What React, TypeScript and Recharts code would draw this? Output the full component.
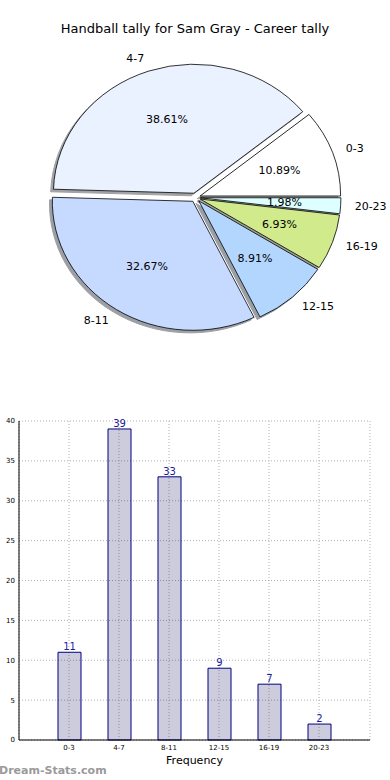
import React from "react";
import {
  Bar,
  BarChart,
  CartesianGrid,
  Cell,
  LabelList,
  Pie,
  PieChart,
  XAxis,
  YAxis,
} from "recharts";

const categories = ["0-3", "4-7", "8-11", "12-15", "16-19", "20-23"];
const tallies = [11, 39, 33, 9, 7, 2];
const sliceColors = ["#FFFFFF", "#EAF1FF", "#C6D9FF", "#B3D6FF", "#D0EA8C", "#DDFFFF"];
const yTicks = [0, 5, 10, 15, 20, 25, 30, 35, 40];

const data = categories.map((name, i) => ({ name, value: tallies[i] }));

// matplotlib pie was squashed, so slices are drawn on an ellipse
const RX = 140.5;
const RY = 129;
const EXPLODE = 0.035;
const RAD = Math.PI / 180;
const FONT = "'DejaVu Sans', sans-serif";

function shade(hex: string) {
  const n = parseInt(hex.slice(1), 16);
  const r = Math.round(((n >> 16) & 255) * 0.3);
  const g = Math.round(((n >> 8) & 255) * 0.3);
  const b = Math.round((n & 255) * 0.3);
  return `rgb(${r},${g},${b})`;
}

function slicePath(cx: number, cy: number, a0: number, a1: number) {
  const start = Math.min(a0, a1);
  const end = Math.max(a0, a1);
  const mid = (start + end) / 2;
  const ox = cx + EXPLODE * RX * Math.cos(mid * RAD);
  const oy = cy - EXPLODE * RY * Math.sin(mid * RAD);
  const x0 = ox + RX * Math.cos(start * RAD);
  const y0 = oy - RY * Math.sin(start * RAD);
  const x1 = ox + RX * Math.cos(end * RAD);
  const y1 = oy - RY * Math.sin(end * RAD);
  const large = end - start > 180 ? 1 : 0;
  return `M${ox},${oy} L${x0},${y0} A${RX},${RY} 0 ${large} 0 ${x1},${y1} Z`;
}

function colorOf(props: any) {
  const name = props.name ?? props.payload?.name;
  const i = categories.indexOf(name);
  return sliceColors[i < 0 ? 0 : i];
}

function SliceShape(props: any) {
  const { cx, cy, startAngle, endAngle } = props;
  return (
    <path
      d={slicePath(cx, cy, startAngle, endAngle)}
      fill={colorOf(props)}
      stroke="#000"
      strokeWidth={0.8}
      strokeLinejoin="round"
    />
  );
}

function ShadowShape(props: any) {
  const { cx, cy, startAngle, endAngle } = props;
  const c = shade(colorOf(props));
  return (
    <path
      d={slicePath(cx - 0.02 * RX, cy + 0.02 * RY, startAngle, endAngle)}
      fill={c}
      stroke={c}
      strokeWidth={1}
      opacity={0.5}
    />
  );
}

function SliceLabel(props: any) {
  const { cx, cy, midAngle, percent } = props;
  const name = props.name ?? props.payload?.name;
  const cos = Math.cos(midAngle * RAD);
  const sin = Math.sin(midAngle * RAD);
  const ox = cx + EXPLODE * RX * cos;
  const oy = cy - EXPLODE * RY * sin;
  const lx = ox + 1.1 * RX * cos;
  const ly = oy - 1.1 * RY * sin;
  const px = ox + 0.6 * RX * cos;
  const py = oy - 0.6 * RY * sin;
  return (
    <g fontFamily={FONT} fontSize={11} fill="#000">
      <text x={lx} y={ly} textAnchor={cos >= 0 ? "start" : "end"} dominantBaseline="central">
        {name}
      </text>
      <text x={px} y={py} textAnchor="middle" dominantBaseline="central">
        {(percent * 100).toFixed(2)}%
      </text>
    </g>
  );
}

export default function App() {
  const pieProps: any = {
    data,
    dataKey: "value",
    nameKey: "name",
    cx: 195.5,
    cy: 197.5,
    outerRadius: RX,
    startAngle: 0,
    endAngle: 360,
    labelLine: false,
    isAnimationActive: false,
  };
  return (
    <div
      style={{
        position: "absolute",
        left: 0,
        top: 0,
        width: 390,
        height: 780,
        background: "#fff",
        overflow: "hidden",
        fontFamily: FONT,
      }}
    >
      <div
        style={{
          position: "absolute",
          top: 21,
          left: 0,
          width: 390,
          textAlign: "center",
          fontSize: 13,
          color: "#000",
        }}
      >
        Handball tally for Sam Gray - Career tally
      </div>

      <div style={{ position: "absolute", left: 0, top: 0 }}>
        <PieChart width={390} height={390} margin={{ top: 0, right: 0, bottom: 0, left: 0 }}>
          <Pie {...pieProps} shape={ShadowShape} label={false}>
            {categories.map((c, i) => (
              <Cell key={c} fill={shade(sliceColors[i])} fillOpacity={0.5} stroke="none" />
            ))}
          </Pie>
          <Pie {...pieProps} shape={SliceShape} label={SliceLabel}>
            {categories.map((c, i) => (
              <Cell key={c} fill={sliceColors[i]} stroke="#000" strokeWidth={0.8} />
            ))}
          </Pie>
        </PieChart>
      </div>

      <div style={{ position: "absolute", left: 0, top: 400 }}>
        <BarChart
          width={390}
          height={370}
          data={data}
          margin={{ top: 21, right: 20, bottom: 0, left: 0 }}
        >
          <CartesianGrid stroke="#b0b0b0" strokeDasharray="1 2" strokeWidth={1} />
          <XAxis
            dataKey="name"
            padding={{ left: 25, right: 26 }}
            height={30}
            tickLine={false}
            tickSize={0}
            axisLine={{ stroke: "#000" }}
            tick={{ fontSize: 7, fill: "#000", fontFamily: FONT }}
            tickMargin={5}
            label={{
              value: "Frequency",
              position: "insideBottom",
              offset: 6,
              fontSize: 11,
              fill: "#000",
              fontFamily: FONT,
            }}
          />
          <XAxis
            xAxisId="top"
            dataKey="name"
            orientation="top"
            height={0}
            tick={false}
            tickLine={false}
            axisLine={{ stroke: "#000" }}
          />
          <YAxis
            domain={[0, 40]}
            ticks={yTicks}
            width={19}
            tickLine={false}
            tickSize={0}
            axisLine={{ stroke: "#000" }}
            tick={{ fontSize: 7, fill: "#000", fontFamily: FONT }}
            tickMargin={4}
            interval={0}
          />
          <YAxis
            yAxisId="right"
            orientation="right"
            domain={[0, 40]}
            width={0}
            tick={false}
            tickLine={false}
            axisLine={{ stroke: "#000" }}
          />
          <Bar
            dataKey="value"
            barSize={23}
            fill="#000050"
            fillOpacity={0.2}
            stroke="#000080"
            strokeWidth={1}
            isAnimationActive={false}
          >
            <LabelList
              dataKey="value"
              position="top"
              offset={2}
              fill="#1c1c9c"
              fontSize={10}
              fontFamily={FONT}
            />
          </Bar>
        </BarChart>
      </div>

      <div
        style={{
          position: "absolute",
          left: -1,
          top: 764,
          fontSize: 11,
          fontWeight: "bold",
          color: "#9a9a9a",
          whiteSpace: "nowrap",
        }}
      >
        Dream-Stats.com
      </div>
    </div>
  );
}
